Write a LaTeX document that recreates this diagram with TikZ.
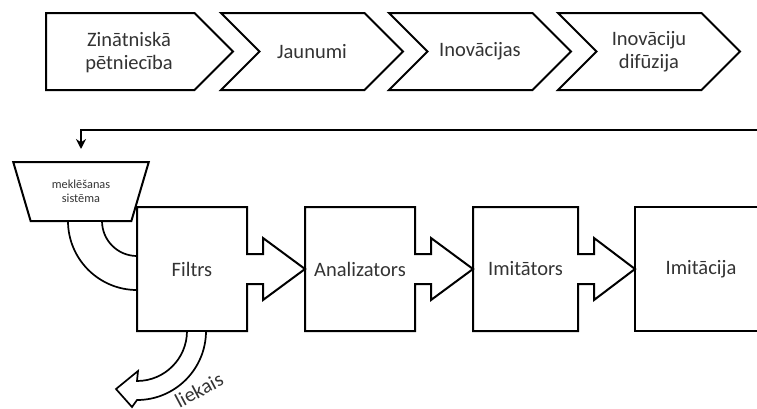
\documentclass[tikz,border=0pt]{standalone}
\usepackage{fontspec}
\setmainfont{Carlito}
\usepackage{tikz}
\usetikzlibrary{positioning,arrows.meta,shapes.geometric,shapes.symbols,calc}
\newcommand{\mainfs}{\fontsize{20.5}{23}\selectfont}
\newcommand{\smallfs}{\fontsize{12.3}{14}\selectfont}
\tikzset{
  stage/.style     ={signal, draw=black, fill=white, line width=2pt, signal to=east,
                     signal from=west, signal pointer angle=90, minimum width=182pt,
                     minimum height=77pt, inner sep=0pt, outer sep=0pt, align=center,
                     font=\mainfs, text=black!80},
  firststage/.style={stage, signal from=nowhere},
  proc/.style      ={rectangle, minimum height=124pt, inner sep=0pt, outer sep=0pt,
                     align=center, font=\mainfs, text=black!80},
  outline/.style   ={line width=2pt, line join=miter},
  funnel/.style    ={trapezium, draw=black, line width=2pt, shape border rotate=180,
                     trapezium left angle=66, trapezium right angle=66,
                     trapezium stretches=true, minimum width=136pt, minimum height=59pt,
                     inner sep=0pt, outer sep=0pt, align=center, font=\smallfs, text=black!80},
  band/.style      ={draw=black, fill=white, line width=1.7pt, line join=miter},
  fb/.style        ={-{Stealth[length=10pt,width=10pt]}, line width=2pt},
}

\begin{document}
\begin{tikzpicture}[x=1pt,y=-1pt]
  \useasboundingbox (0,0) rectangle (757,408);
  % top row
  \node[firststage, minimum width=187pt, anchor=west] (zin) at (46,51.5) {};
  \node[font=\mainfs, text=black!80, align=center] (zintext) at (129,53) {Zinātniskā\\pētniecība};
  \node[stage] (jaun) at (312,51.5) {Jaunumi};
  \node[stage] (inov) at (480,51.5) {Inovācijas};
  \node[stage] (difu) at (649,51.5) {Inovāciju\\difūzija};

  % bottom row
  \node[funnel] (search) at (81,191.5) {meklēšanas\\sistēma};
  \node[proc, minimum width=110pt] (filtrs) at (192,269) {Filtrs};
  \node[proc, minimum width=110pt, right=58pt of filtrs] (analizators) {Analizators};
  \node[proc, minimum width=105pt, right=58pt of analizators] (imitators) {Imitātors};
  \node[proc, minimum width=132pt, right=57pt of imitators] (imitacija) {Imitācija};

  \draw[outline] ($(filtrs.east)+(0,-15)$) |- (filtrs.north west) -- (filtrs.south west)
    -| ($(filtrs.east)+(0,15)$) -- ++(16,0) -- ++(0,16) -- (analizators.west)
    -- ($(filtrs.east)+(16,-31)$) -- ++(0,16) -- cycle;
  \draw[outline] ($(analizators.east)+(0,-15)$) |- (analizators.north west) -- (analizators.south west)
    -| ($(analizators.east)+(0,15)$) -- ++(16,0) -- ++(0,16) -- (imitators.west)
    -- ($(analizators.east)+(16,-31)$) -- ++(0,16) -- cycle;
  \draw[outline] ($(imitators.east)+(0,-15)$) |- (imitators.north west) -- (imitators.south west)
    -| ($(imitators.east)+(0,15)$) -- ++(16,0) -- ++(0,16) -- (imitacija.west)
    -- ($(imitators.east)+(16,-31)$) -- ++(0,16) -- cycle;
  \draw[outline] (imitacija.north east) -- (imitacija.north west) -- (imitacija.south west)
    -- (imitacija.south east);

  % feedback
  \coordinate (fbstart) at (757,130);
  \draw[fb, shorten >=13pt] (fbstart) -| (search.90);

  % band from search to filter
  \coordinate (hub) at (filtrs.west |- search.-90);
  \draw[band] ($(hub)+(-69,0)$) arc[start angle=180, end angle=90, radius=69]
    -- ($(hub)+(0,35)$) arc[start angle=90, end angle=180, radius=35] -- cycle;

  % waste
  \draw[band] ($(filtrs.south west)+(69,0)$) arc[start angle=0, end angle=90, radius=69]
    -- ++(-5,7) -- ++(-16,-18) -- ++(22,-18) -- ++(-1,10)
    arc[start angle=90, end angle=0, radius=50] -- cycle;
  \node[rotate=28, font=\mainfs, text=black!80] (waste) at (199,390) {liekais};
\end{tikzpicture}
\end{document}
